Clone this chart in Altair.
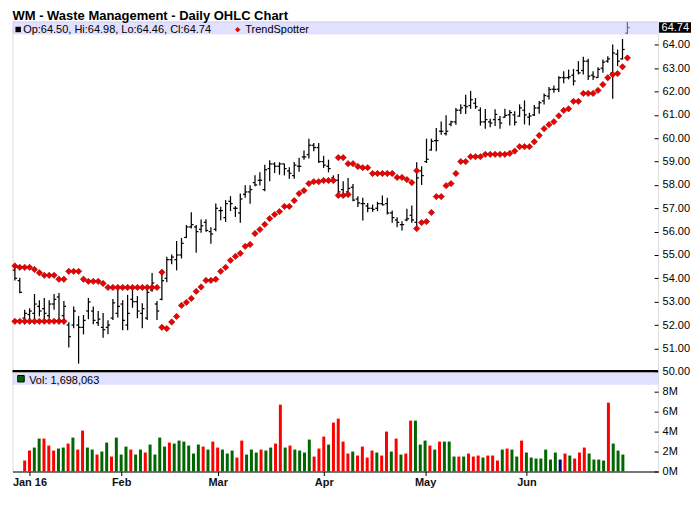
import altair as alt
import pandas as pd

TITLE = "WM - Waste Management - Daily OHLC Chart"
FONT = "Liberation Sans"

# ---- price bars (trading-day index 0..125) ----
idx = list(range(0, 126))
opens = [54.35, 53.90, 52.30, 52.45, 52.50, 52.80, 52.70, 52.40, 52.90, 53.20,
         52.40, 52.00, 52.00, 52.00, 51.90, 52.60, 52.60, 52.10, 51.90, 51.90,
         52.30, 52.50, 52.90, 52.00, 53.10, 53.00, 52.50, 52.30, 53.50, 52.90,
         53.10, 54.00, 54.80, 54.80, 55.00, 55.75, 56.20, 56.20, 56.10, 56.40,
         56.00, 56.10, 56.90, 56.60, 57.30, 57.00, 56.80, 57.60, 57.70, 58.10,
         58.20, 57.80, 58.70, 58.90, 58.80, 58.90, 58.60, 58.40, 58.80, 59.20,
         59.30, 59.70, 59.60, 59.00, 58.80, 58.30, 58.20, 57.80, 57.70, 57.90,
         57.40, 57.20, 57.10, 57.00, 57.00, 57.20, 57.20, 56.80, 56.50, 56.30,
         56.50, 56.70, 56.40, 58.60, 59.00, 59.50, 59.90, 60.30, 60.20, 60.60,
         60.70, 61.20, 61.40, 61.40, 61.50, 61.20, 60.70, 60.70, 60.80, 60.80,
         60.90, 61.00, 61.00, 60.95, 61.20, 60.90, 61.00, 61.30, 61.60, 61.80,
         62.10, 62.10, 62.60, 62.60, 62.70, 62.90, 62.90, 63.30, 62.70, 62.60,
         63.00, 63.30, 62.80, 63.60, 63.40, 64.50]
highs = [54.53, 54.03, 52.65, 52.72, 53.33, 53.06, 53.16, 53.06, 53.33, 53.37,
         53.03, 52.12, 52.79, 52.39, 52.43, 53.16, 52.79, 52.60, 52.52, 52.20,
         53.12, 53.60, 53.06, 53.29, 53.60, 53.24, 52.93, 53.51, 54.23, 53.03,
         54.31, 54.92, 55.02, 55.60, 55.73, 56.28, 56.83, 56.28, 56.52, 56.53,
         56.19, 57.20, 57.07, 57.35, 57.52, 57.09, 57.63, 57.99, 57.99, 58.41,
         58.54, 58.87, 59.06, 58.97, 58.97, 58.91, 58.76, 58.98, 59.16, 59.48,
         59.98, 59.80, 59.80, 59.25, 59.08, 58.41, 58.47, 58.16, 58.30, 58.04,
         57.52, 57.45, 57.23, 57.16, 57.28, 57.55, 57.45, 56.90, 56.62, 56.45,
         56.98, 57.12, 58.97, 58.80, 59.98, 59.98, 60.44, 60.72, 60.98, 60.75,
         61.29, 61.46, 61.86, 62.03, 61.72, 61.32, 61.25, 60.84, 61.24, 60.95,
         61.26, 61.21, 61.16, 61.45, 61.62, 61.09, 61.42, 61.59, 61.92, 62.19,
         62.26, 62.66, 62.87, 62.94, 62.97, 63.30, 63.49, 63.40, 62.87, 63.04,
         63.37, 63.51, 64.01, 63.80, 64.25, 64.98]
lows = [53.91, 53.36, 52.03, 52.10, 52.10, 52.37, 52.25, 52.29, 52.65, 52.03,
        52.03, 51.04, 51.86, 50.35, 51.60, 52.25, 52.03, 51.96, 51.46, 51.60,
        52.22, 52.32, 51.78, 51.78, 52.74, 52.29, 51.86, 52.22, 53.43, 52.22,
        53.06, 53.83, 54.60, 54.34, 54.85, 55.73, 56.13, 55.10, 55.95, 55.99,
        55.48, 56.02, 56.49, 56.42, 56.88, 56.63, 56.38, 57.45, 57.19, 57.94,
        57.98, 57.73, 58.16, 58.51, 58.44, 58.41, 58.27, 58.27, 58.56, 59.08,
        59.13, 59.44, 58.94, 58.73, 58.54, 58.09, 57.45, 57.52, 57.66, 57.30,
        57.05, 56.48, 56.83, 56.85, 56.88, 57.12, 56.73, 56.38, 56.19, 56.05,
        56.45, 56.38, 56.10, 58.00, 58.94, 59.47, 59.44, 60.15, 60.12, 60.51,
        60.58, 61.04, 61.04, 61.26, 61.26, 60.54, 60.41, 60.47, 60.52, 60.41,
        60.88, 60.55, 60.55, 60.92, 60.59, 60.55, 60.95, 61.05, 61.45, 61.66,
        61.95, 61.98, 62.35, 62.52, 62.26, 62.73, 62.73, 62.49, 62.49, 62.59,
        62.80, 63.23, 61.69, 63.09, 63.37, 64.46]
closes = [54.00, 53.40, 52.50, 52.60, 52.90, 52.60, 52.50, 52.90, 53.10, 52.20,
          52.80, 51.50, 52.60, 51.90, 52.20, 52.99, 52.20, 52.25, 51.80, 52.00,
          52.95, 52.80, 52.20, 52.50, 53.00, 52.60, 52.70, 53.40, 53.80, 52.60,
          53.90, 54.80, 54.91, 55.00, 55.50, 56.20, 56.30, 56.00, 56.25, 56.05,
          55.90, 57.00, 56.90, 57.20, 57.20, 57.00, 57.40, 57.70, 57.80, 58.00,
          58.20, 58.65, 58.90, 58.80, 58.90, 58.70, 58.50, 58.85, 58.80, 59.20,
          59.70, 59.60, 59.00, 58.85, 58.70, 58.20, 57.70, 57.60, 57.85, 57.35,
          57.23, 57.20, 57.00, 56.95, 57.20, 57.15, 56.80, 56.60, 56.40, 56.30,
          56.55, 56.50, 58.30, 58.40, 59.10, 59.87, 59.90, 60.30, 60.30, 60.70,
          61.20, 61.30, 61.35, 61.65, 61.35, 60.70, 60.80, 60.65, 61.02, 60.65,
          60.98, 61.10, 60.69, 61.30, 61.00, 60.95, 61.30, 61.52, 61.83, 62.09,
          62.09, 62.59, 62.59, 62.63, 62.45, 62.80, 63.30, 62.66, 62.63, 62.95,
          63.26, 63.40, 63.65, 63.30, 63.80, 64.74]

# ---- TrendSpotter markers (None = no marker that day) ----
ts_upper = ([54.53, 54.47, 54.47, 54.47, 54.38, 54.24, 54.13, 54.13, 54.13, 53.96, 53.96,
             54.30, 54.30, 54.30, 53.96, 53.87, 53.87, 53.87, 53.78]
            + [53.61] * 11 + [54.26] + [None] * 35
            + [59.17, 59.17, 58.91, 58.91, 58.79, 58.74, 58.74, 58.49, 58.49, 58.49,
               58.49, 58.49, 58.32, 58.32, 58.23, 58.10, 58.61]
            + [None] * 43)
ts_lower = ([52.16] * 11 + [None] * 19
            + [51.90, 51.85, 52.13, 52.37, 52.84, 52.97, 53.14, 53.44, 53.63, 53.91,
               53.91, 53.96, 54.30, 54.47, 54.77, 54.94, 55.07, 55.37, 55.45, 55.92,
               56.09, 56.31, 56.56, 56.73, 56.86, 57.08, 57.08, 57.33, 57.63, 57.76,
               58.06, 58.14, 58.14, 58.19, 58.19, 58.19]
            + [57.55, 57.55, 57.59] + [None] * 13
            + [56.13, 56.39, 56.43, 56.82, 57.50, 57.50, 57.97, 58.06, 58.49, 59.00,
               59.00, 59.21, 59.21, 59.21, 59.31, 59.31, 59.31, 59.31, 59.31, 59.35,
               59.45, 59.64, 59.64, 59.64, 59.85, 60.12, 60.41, 60.58, 60.71, 60.96,
               61.19, 61.26, 61.58, 61.58, 61.92, 61.92, 61.92, 62.05, 62.30, 62.59,
               62.73, 62.77, 63.06, 63.44])

# ---- volume (millions), days 1..125 ----
vol_idx = list(range(1, 126))
volume_m = [1.1, 2.1, 2.4, 3.3, 3.3, 2.6, 2.1, 2.3, 2.4, 2.8,
            3.4, 2.2, 4.1, 2.4, 2.2, 1.7, 2.0, 2.9, 1.5, 3.4,
            1.7, 2.5, 2.2, 1.7, 2.2, 1.9, 2.7, 1.7, 3.4, 2.5,
            2.9, 2.8, 3.1, 3.0, 2.6, 1.8, 2.7, 2.5, 2.2, 3.0,
            2.4, 2.2, 1.8, 2.1, 1.4, 3.1, 1.7, 2.2, 1.9, 2.2,
            2.1, 2.4, 2.8, 6.7, 2.4, 2.6, 2.2, 2.1, 1.9, 3.2,
            1.5, 2.3, 3.5, 2.7, 4.9, 5.3, 3.0, 1.8, 2.0, 1.6,
            2.5, 1.4, 2.1, 1.9, 1.6, 4.0, 2.0, 3.3, 1.7, 1.8,
            5.1, 5.1, 2.7, 3.1, 2.6, 2.2, 3.0, 3.0, 3.0, 1.5,
            1.5, 1.5, 1.8, 1.5, 1.6, 1.4, 1.6, 1.6, 1.1, 2.2,
            2.3, 2.2, 1.5, 3.1, 1.9, 1.4, 1.3, 1.3, 2.2, 1.2,
            1.9, 1.2, 1.8, 1.6, 1.3, 1.9, 2.4, 1.8, 1.2, 1.2,
            1.1, 6.9, 2.8, 2.1, 1.7]
vol_dir = list("dduuddduudud" "duuduudu" "uudu" "udu" "uuud" "uuuuuud"
               "uddu" "uudduuuduu" "ddudu" "uuud" "ddudd" "ddudd" "ddudd" "udud"
               "duuududuuu" "dudddudddu" "duudu" "uuuuuun" "dudddu" "uuudu" "u")

month_ticks = [2, 21, 41, 63, 84, 105]
month_labels = ["Jan 16", "Feb", "Mar", "Apr", "May", "Jun"]
price_ticks = list(range(50, 65))
vol_ticks = [0, 2, 4, 6, 8]
vol_text = "Vol: 1,698,063"

n_vol = len(vol_idx)
vol_dir = (vol_dir + ["u"] * n_vol)[:n_vol]

# ---- tables ----
price_df = pd.DataFrame({"i": idx, "open": opens, "high": highs,
                         "low": lows, "close": closes})
price_df["xo"] = price_df["i"] - 0.45
price_df["xc"] = price_df["i"] + 0.45
ts_rows = [{"i": i, "v": v} for i, v in zip(idx, ts_upper) if v is not None]
ts_rows += [{"i": i, "v": v} for i, v in zip(idx, ts_lower) if v is not None]
ts_df = pd.DataFrame(ts_rows)
vol_df = pd.DataFrame({"i": vol_idx, "vol": volume_m, "dir": vol_dir})
last = price_df.tail(1).copy()
ohlc_text = "Op:%.2f, Hi:%.2f, Lo:%.2f, Cl:%.2f" % (
    last["open"].iloc[0], last["high"].iloc[0], last["low"].iloc[0], last["close"].iloc[0])
last["lbl"] = ["%.2f" % last["close"].iloc[0]]

W, PH, VH = 647, 351, 100
x_scale = alt.Scale(domain=[-0.49, 131.26], nice=False, zero=False)
p_scale = alt.Scale(domain=[50, 65], nice=False, zero=False)
v_scale = alt.Scale(domain=[0, 10], nice=False)

axis_common = dict(orient="right", domain=False, grid=False, tickSize=4, offset=-4,
                   labelPadding=4, labelFont=FONT, labelFontSize=11,
                   labelColor="black", tickColor="black", labelOverlap=False,
                   labelBound=False, title=None)
p_axis = alt.Axis(values=price_ticks, format=".2f", tickCount=len(price_ticks),
                  **axis_common)
v_axis = alt.Axis(values=vol_ticks, labelExpr="datum.value + 'M'", **axis_common)

expr = "''"
for t, l in reversed(list(zip(month_ticks, month_labels))):
    expr = "datum.value == %d ? '%s' : %s" % (t, l, expr)
x_axis = alt.Axis(values=month_ticks, labelExpr=expr, grid=False, tickSize=4,
                  tickColor="black", domainColor="black", labelFont=FONT,
                  labelFontSize=11, labelFontWeight="bold", labelColor="#111111",
                  labelPadding=1, title=None, labelOverlap=False)


def PY(field):
    return alt.Y(field, scale=p_scale, axis=p_axis, title=None)


SW = 1.25
base = alt.Chart(price_df)
X = alt.X("i:Q", scale=x_scale, axis=None)
hl = base.mark_rule(color="black", strokeWidth=SW).encode(
    x=X, y=PY("low:Q"), y2="high:Q")
op = base.mark_rule(color="black", strokeWidth=SW).encode(
    x=alt.X("xo:Q", scale=x_scale, axis=None), x2="i:Q", y=PY("open:Q"))
cl = base.mark_rule(color="black", strokeWidth=SW).encode(
    x=alt.X("i:Q", scale=x_scale, axis=None), x2="xc:Q", y=PY("close:Q"))
ts = alt.Chart(ts_df).mark_point(shape="diamond", filled=True, size=40,
                                 color="#ee0000", stroke="#990000",
                                 strokeWidth=0.6, opacity=1).encode(
    x=alt.X("i:Q", scale=x_scale, axis=None), y=PY("v:Q"))

band = alt.Chart(last).mark_rect(color="#c8c8ff", opacity=0.55).encode(
    x=alt.value(0), x2=alt.value(W), y=alt.value(0), y2=alt.value(13))
sq = alt.Chart(last).mark_point(shape="square", filled=True, size=30, color="black",
                                opacity=1).encode(x=alt.value(5.7), y=alt.value(8))
ohlc_lbl = alt.Chart(last).mark_text(align="left", baseline="alphabetic", font=FONT,
                                     fontSize=11, color="black", text=ohlc_text).encode(
    x=alt.value(10.7), y=alt.value(11.6))
ts_sym = alt.Chart(last).mark_point(shape="diamond", filled=True, size=22,
                                    color="#ee0000", stroke="#990000",
                                    strokeWidth=0.5, opacity=1).encode(
    x=alt.value(225.7), y=alt.value(8.2))
ts_lbl = alt.Chart(last).mark_text(align="left", baseline="alphabetic", font=FONT,
                                   fontSize=11, color="black", text="TrendSpotter").encode(
    x=alt.value(233.3), y=alt.value(11.6))
title = alt.Chart(last).mark_text(align="left", baseline="alphabetic", font=FONT,
                                  fontSize=13, fontWeight="bold", color="black",
                                  text=TITLE).encode(x=alt.value(0), y=alt.value(-1.8))
box = alt.Chart(last).mark_point(shape="M-1,-0.33L1,-0.33L1,0.33L-1,0.33Z", filled=True,
                                 size=1024, color="black", opacity=1).encode(
    x=alt.value(W + 17), y=PY("close:Q"))
box_txt = alt.Chart(last).mark_text(align="left", baseline="middle", font=FONT,
                                    fontSize=11, color="white").encode(
    x=alt.value(W + 3.5), y=PY("close:Q"), text="lbl:N")

price = alt.layer(hl, op, cl, ts, band, sq, ohlc_lbl, ts_sym, ts_lbl, title,
                  box, box_txt).properties(width=W, height=PH)

vbars = alt.Chart(vol_df).mark_bar(size=3).encode(
    x=alt.X("i:Q", scale=x_scale, axis=x_axis),
    y=alt.Y("vol:Q", scale=v_scale, axis=v_axis, title=None),
    color=alt.Color("dir:N", scale=alt.Scale(domain=["u", "d", "n"],
                                             range=["#006600", "#ff0000", "#000080"]),
                    legend=None))
vband = alt.Chart(last).mark_rect(color="#c8c8ff", opacity=0.55).encode(
    x=alt.value(0), x2=alt.value(W), y=alt.value(1), y2=alt.value(13))
vsq = alt.Chart(last).mark_point(shape="square", filled=True, size=42, color="#006600",
                                 stroke="black", strokeWidth=1, opacity=1).encode(
    x=alt.value(8.5), y=alt.value(7))
vlbl = alt.Chart(last).mark_text(align="left", baseline="alphabetic", font=FONT,
                                 fontSize=11, color="black", text=vol_text).encode(
    x=alt.value(16.7), y=alt.value(11.8))
sep = alt.Chart(last).mark_rule(color="black", strokeWidth=2.2).encode(
    x=alt.value(0), x2=alt.value(W), y=alt.value(-0.6))

vol = alt.layer(vbars, vband, vsq, vlbl, sep).properties(width=W, height=VH)

chart = alt.vconcat(price, vol, spacing=0, bounds="flush").properties(
    padding={"left": 1.5, "top": 0, "right": 0, "bottom": 0}
).configure_view(stroke="black", strokeWidth=1).configure(background="white")

chart.save("out.html", embed_options={"renderer": "svg", "actions": False})
